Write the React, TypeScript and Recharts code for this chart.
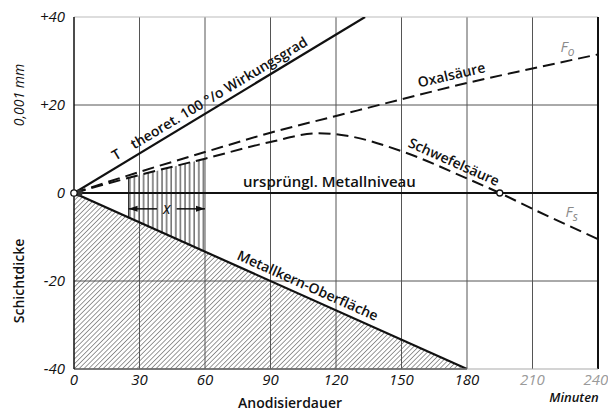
import {
  Area,
  ComposedChart,
  Line,
  ReferenceDot,
  ReferenceLine,
  XAxis,
  YAxis
} from "recharts";

// Anodisierdauer (min) -> Schichtdicke (0,001 mm)
const xTicks = [0, 30, 60, 90, 120, 150, 180, 210, 240];
const yTicks = [-40, -20, 0, 20, 40];
const xGrid = [30, 60, 90, 120, 150, 180, 210];

const theoretical = [
  { t: 0, v: 0 },
  { t: 133.3, v: 40 }
];

const oxalic = [
  { t: 0, v: 0 },
  { t: 30, v: 4.8 },
  { t: 60, v: 9.3 },
  { t: 90, v: 13.7 },
  { t: 120, v: 17.5 },
  { t: 150, v: 21.3 },
  { t: 180, v: 25 },
  { t: 210, v: 28.3 },
  { t: 240, v: 31.5 }
];

const sulfuric = [
  { t: 0, v: 0 },
  { t: 30, v: 4.1 },
  { t: 60, v: 7.8 },
  { t: 90, v: 11.6 },
  { t: 112, v: 13.6 },
  { t: 125, v: 13 },
  { t: 150, v: 9.5 },
  { t: 180, v: 3.3 },
  { t: 195, v: 0 },
  { t: 210, v: -3.6 },
  { t: 240, v: -10.5 }
];

const metalCore = [
  { t: 0, v: 0 },
  { t: 180, v: -40 }
];

// hatched band below metal core surface
const coreBand = [
  { t: 0, v: [-40, 0] },
  { t: 180, v: [-40, -40] }
];

// vertically hatched layer thickness x (between 25 and 60 min)
const layerBand = [
  { t: 25, v: [-5.6, 3.4] },
  { t: 60, v: [-13.3, 7.8] }
];

const dimLeft = [
  { t: 25, v: -3.6 },
  { t: 38, v: -3.6 }
];
const dimRight = [
  { t: 47, v: -3.6 },
  { t: 60, v: -3.6 }
];

const font = "'Open Sans', 'DejaVu Sans', sans-serif";

const rotatedText =
  (
    text: string,
    angle: number,
    opts: { size?: number; anchor?: string; dy?: number; fill?: string; italic?: boolean; weight?: number } = {}
  ) =>
  (props: any) => {
    const { cx, cy } = props;
    return (
      <text
        x={cx}
        y={cy}
        dy={opts.dy ?? -6}
        transform={`rotate(${angle} ${cx} ${cy})`}
        textAnchor={opts.anchor ?? "middle"}
        fontFamily={font}
        fontSize={opts.size ?? 14}
        fontWeight={opts.weight ?? 600}
        fontStyle={opts.italic ? "italic" : "normal"}
        fill={opts.fill ?? "#111"}
      >
        {text}
      </text>
    );
  };

const subLabel = (main: string, sub: string) => (props: any) => (
  <text
    x={props.cx}
    y={props.cy}
    fontFamily={font}
    fontSize={15}
    fontStyle="italic"
    fill="#8a8a8a"
    textAnchor="middle"
  >
    {main}
    <tspan dy={4} fontSize={12}>
      {sub}
    </tspan>
  </text>
);

const arrowHead = (dir: number) => (props: any) => {
  const { cx, cy } = props;
  return (
    <path
      d={`M${cx},${cy} L${cx - dir * 9},${cy - 3} L${cx - dir * 9},${cy + 3} Z`}
      fill="#111"
    />
  );
};

const openDot = (props: any) => (
  <circle cx={props.cx} cy={props.cy} r={3} fill="#fff" stroke="#111" strokeWidth={1.3} />
);

const originDot = (props: any) => (
  <g>
    <circle cx={props.cx + 5} cy={props.cy} r={3.5} fill="#333" />
    <circle cx={props.cx} cy={props.cy} r={3.2} fill="#fff" stroke="#111" strokeWidth={1.3} />
  </g>
);

const XTick = (props: any) => {
  const { x, y, payload } = props;
  const faded = payload.value > 180;
  return (
    <text
      x={x}
      y={y}
      dy={13}
      textAnchor="middle"
      fontFamily={font}
      fontSize={15}
      fontStyle="italic"
      fill={faded ? "#9a9a9a" : "#111"}
    >
      {payload.value}
    </text>
  );
};

const YTick = (props: any) => {
  const { x, y, payload } = props;
  const v = payload.value;
  return (
    <text
      x={x}
      y={y}
      dy={5}
      textAnchor="end"
      fontFamily={font}
      fontSize={15}
      fontStyle="italic"
      fill="#111"
    >
      {v > 0 ? `+${v}` : `${v}`}
    </text>
  );
};

export default function App() {
  return (
    <div style={{ position: "absolute", left: 0, top: 0, width: 608, height: 411, background: "#fff" }}>
      <ComposedChart width={608} height={411} margin={{ top: 17, right: 10, bottom: 12, left: 0 }}>
        <defs>
          <pattern id="diag" width="3.4" height="4" patternUnits="userSpaceOnUse" patternTransform="rotate(45)">
            <line x1="0" y1="0" x2="0" y2="4" stroke="#333" strokeWidth="1" />
          </pattern>
          <pattern id="vert" width="4.6" height="4" patternUnits="userSpaceOnUse">
            <line x1="1" y1="0" x2="1" y2="4" stroke="#222" strokeWidth="1" />
          </pattern>
        </defs>
        <XAxis
          type="number"
          dataKey="t"
          domain={[0, 240]}
          ticks={xTicks}
          allowDataOverflow
          height={30}
          tick={<XTick />}
          tickLine={false}
          tickSize={0}
          tickMargin={3}
          axisLine={{ stroke: "#aaa", strokeWidth: 1.2 }}
        />
        <YAxis
          type="number"
          dataKey="v"
          domain={[-40, 40]}
          ticks={yTicks}
          allowDataOverflow
          width={74}
          tick={<YTick />}
          tickLine={false}
          tickSize={0}
          tickMargin={9}
          axisLine={{ stroke: "#111", strokeWidth: 1.5 }}
        />
        <Area
          data={coreBand}
          dataKey="v"
          type="linear"
          stroke="none"
          fill="url(#diag)"
          fillOpacity={1}
          isAnimationActive={false}
          dot={false}
          activeDot={false}
        />
        <Area
          data={layerBand}
          dataKey="v"
          type="linear"
          stroke="none"
          fill="url(#vert)"
          fillOpacity={1}
          isAnimationActive={false}
          dot={false}
          activeDot={false}
        />
        {xGrid.map((t) => (
          <ReferenceLine key={`gx${t}`} x={t} stroke="#555" strokeWidth={1} />
        ))}
        <ReferenceLine y={20} stroke="#555" strokeWidth={1} />
        <ReferenceLine y={-20} stroke="#555" strokeWidth={1} />
        <ReferenceLine y={40} stroke="#bbb" strokeWidth={1} />
        <ReferenceLine stroke="#222" strokeWidth={1} segment={[{ x: 25, y: -5.6 }, { x: 25, y: 3.4 }]} />
        <ReferenceLine x={240} stroke="#111" strokeWidth={2} />
        <ReferenceLine
          stroke="#111"
          strokeWidth={1.5}
          segment={[
            { x: 0, y: -40 },
            { x: 180, y: -40 }
          ]}
        />
        <ReferenceLine y={0} stroke="#111" strokeWidth={2.2} />
        <Line data={theoretical} dataKey="v" type="linear" stroke="#111" strokeWidth={2.2} dot={false} activeDot={false} isAnimationActive={false} />
        <Line data={metalCore} dataKey="v" type="linear" stroke="#111" strokeWidth={2.2} dot={false} activeDot={false} isAnimationActive={false} />
        <Line data={oxalic} dataKey="v" type="monotone" stroke="#111" strokeWidth={2} strokeDasharray="12 6" dot={false} activeDot={false} isAnimationActive={false} />
        <Line data={sulfuric} dataKey="v" type="monotone" stroke="#111" strokeWidth={2} strokeDasharray="12 6" dot={false} activeDot={false} isAnimationActive={false} />
        <Line data={dimLeft} dataKey="v" type="linear" stroke="#111" strokeWidth={1.5} dot={false} activeDot={false} isAnimationActive={false} />
        <Line data={dimRight} dataKey="v" type="linear" stroke="#111" strokeWidth={1.5} dot={false} activeDot={false} isAnimationActive={false} />

        <ReferenceDot x={25} y={-3.6} shape={arrowHead(-1)} />
        <ReferenceDot x={60} y={-3.6} shape={arrowHead(1)} />
        <ReferenceDot x={42.5} y={-3.6} shape={rotatedText("x", 0, { dy: 5, size: 16, italic: true, weight: 400 })} />

        <ReferenceDot x={22} y={6.6} shape={rotatedText("T", -31, { anchor: "middle" })} />
        <ReferenceDot x={29} y={8.7} shape={rotatedText("theoret. 100 °/o Wirkungsgrad", -31, { anchor: "start" })} />
        <ReferenceDot x={174} y={24.4} shape={rotatedText("Oxalsäure", -13)} />
        <ReferenceDot x={172} y={4.8} shape={rotatedText("Schwefelsäure", 24)} />
        <ReferenceDot x={117} y={0} shape={rotatedText("ursprüngl. Metallniveau", 0, { size: 15 })} />
        <ReferenceDot x={105} y={-23.3} shape={rotatedText("Metallkern-Oberfläche", 24)} />
        <ReferenceDot x={226} y={32} shape={subLabel("F", "o")} />
        <ReferenceDot x={228} y={-5.5} shape={subLabel("F", "s")} />

        <ReferenceDot x={195} y={0} shape={openDot} />
        <ReferenceDot x={0} y={0} shape={originDot} ifOverflow="visible" />
      </ComposedChart>

      <div style={{ position: "absolute", left: 18, top: 95, transform: "translate(-50%, -50%) rotate(-90deg)", fontFamily: font, fontSize: 14, fontStyle: "italic", whiteSpace: "nowrap", color: "#111" }}>
        0,001 mm
      </div>
      <div style={{ position: "absolute", left: 18, top: 281, transform: "translate(-50%, -50%) rotate(-90deg)", fontFamily: font, fontSize: 14, fontWeight: 600, whiteSpace: "nowrap", color: "#111" }}>
        Schichtdicke
      </div>
      <div style={{ position: "absolute", left: 290, top: 402, transform: "translate(-50%, -50%)", fontFamily: font, fontSize: 14, fontWeight: 600, whiteSpace: "nowrap", color: "#111" }}>
        Anodisierdauer
      </div>
      <div style={{ position: "absolute", left: 574, top: 397, transform: "translate(-50%, -50%)", fontFamily: font, fontSize: 13, fontStyle: "italic", fontWeight: 600, whiteSpace: "nowrap", color: "#111" }}>
        Minuten
      </div>
    </div>
  );
}
